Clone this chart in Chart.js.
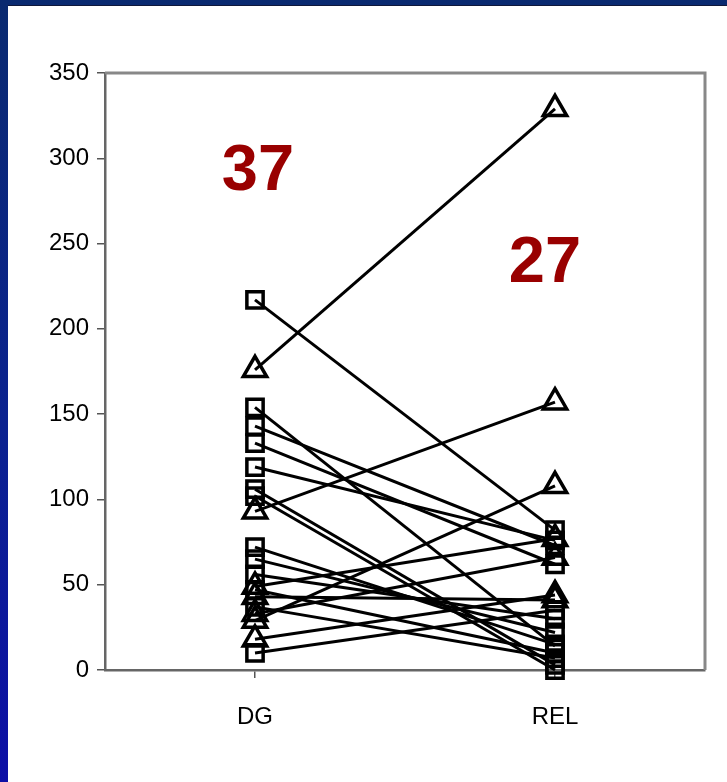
<!DOCTYPE html>
<html lang="en">
<head>
<meta charset="UTF-8">
<title>DG vs REL</title>
<style>
  html, body { margin: 0; padding: 0; }
  body {
    width: 727px; height: 782px; position: relative; overflow: hidden;
    background: linear-gradient(to bottom, #0a2a70 0%, #0b2290 55%, #0d0fa6 100%);
  }
  .panel { position: absolute; left: 8px; top: 5px; right: 0; bottom: 0; background: #fff; border-top: 1px solid #10183a; }
  #wrap { position: absolute; left: 0; top: 0; width: 727px; height: 782px; }
</style>
</head>
<body>
<div class="panel"></div>
<div id="wrap"><canvas id="pairChart" width="727" height="782"></canvas></div>
<script src="https://cdn.jsdelivr.net/npm/chart.js"></script>
<script>
  const categories = ['DG', 'REL'];

  // paired values, one entry per subject: value at DG and value at REL
  const squareDG  = [217, 154, 143, 133, 119, 106, 102, 72, 65, 56, 47, 37, 10];
  const squareREL = [ 82,  14,  73,  62,  76,   3,   0, 15, 22, 30, 10,  7, 35];
  const triangleDG  = [176,  93,  29, 49, 43, 33, 18];
  const triangleREL = [329, 157, 108, 77, 41, 66, 44];

  const yMax = 350;
  const yStep = 50;
  const groupCounts = ['37', '27'];

  const font = { family: 'Liberation Sans, Arial, sans-serif', size: 24 };

  function pairDataset(dg, rel, style, radius) {
    return {
      data: [dg, rel],
      borderColor: '#000',
      borderWidth: 3,
      pointStyle: style,
      pointRadius: radius,
      pointBorderWidth: 3.5,
      pointBorderColor: '#000',
      pointBackgroundColor: 'rgba(0,0,0,0)',
      tension: 0,
      fill: false,
      clip: false
    };
  }

  const datasets = [];
  squareDG.forEach((v, i) => datasets.push(pairDataset(v, squareREL[i], 'rect', 11.5)));
  triangleDG.forEach((v, i) => datasets.push(pairDataset(v, triangleREL[i], 'triangle', 13.5)));

  // grey frame on top and right of the plot, plus the two big numbers
  const framePlugin = {
    id: 'frame',
    beforeDatasetsDraw(chart) {
      const a = chart.chartArea;
      const ctx = chart.ctx;
      ctx.save();
      ctx.strokeStyle = '#888';
      ctx.lineWidth = 3;
      ctx.beginPath();
      ctx.moveTo(a.left, a.top);
      ctx.lineTo(a.right, a.top);
      ctx.lineTo(a.right, a.bottom);
      ctx.stroke();
      ctx.restore();
    },
    afterDatasetsDraw(chart) {
      const ctx = chart.ctx;
      const x = chart.scales.x, y = chart.scales.y;
      ctx.save();
      ctx.fillStyle = '#990000';
      ctx.font = 'bold 65px Liberation Sans, Arial, sans-serif';
      ctx.textAlign = 'center';
      ctx.textBaseline = 'middle';
      ctx.fillText(groupCounts[0], x.getPixelForValue(0) + 3, y.getPixelForValue(292));
      ctx.fillText(groupCounts[1], x.getPixelForValue(1) - 10, y.getPixelForValue(238));
      ctx.restore();
    }
  };

  new Chart(document.getElementById('pairChart'), {
    type: 'line',
    data: { labels: categories, datasets: datasets },
    options: {
      responsive: false,
      animation: false,
      layout: { padding: { top: 73, right: 22, left: 0, bottom: 0 } },
      plugins: { legend: { display: false }, tooltip: { enabled: false } },
      scales: {
        x: {
          type: 'category',
          offset: true,
          grid: { drawOnChartArea: false, drawTicks: true, tickLength: 8, color: '#555', lineWidth: 1.5 },
          border: { color: '#666', width: 2.5 },
          ticks: { font: font, color: '#000', padding: 25 },
          afterFit(s) { s.height = 112; }
        },
        y: {
          min: 0,
          max: yMax,
          grid: { drawOnChartArea: false, drawTicks: true, tickLength: 8, color: '#555', lineWidth: 1.5 },
          border: { color: '#666', width: 2.5 },
          ticks: { stepSize: yStep, font: font, color: '#000', padding: 8 },
          afterFit(s) { s.width = 105; }
        }
      }
    },
    plugins: [framePlugin]
  });
</script>
</body>
</html>
